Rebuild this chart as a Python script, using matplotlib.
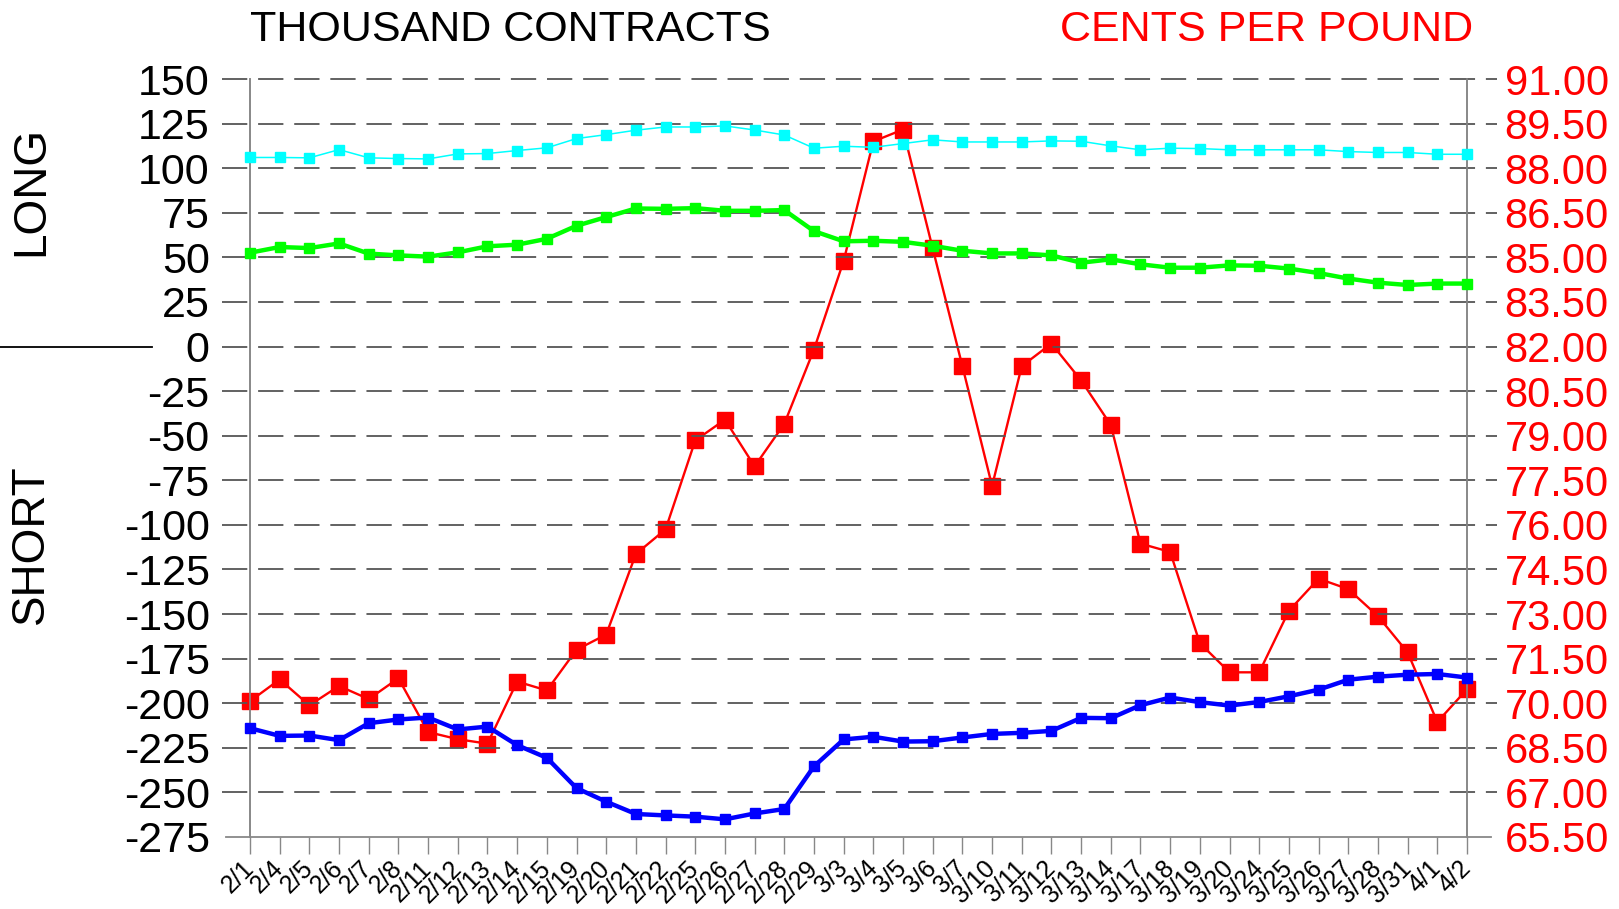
import matplotlib
matplotlib.use("Agg")
import matplotlib.pyplot as plt
import matplotlib.transforms as mtransforms
import numpy as np

dates = ['2/1', '2/4', '2/5', '2/6', '2/7', '2/8', '2/11', '2/12', '2/13', '2/14',
         '2/15', '2/19', '2/20', '2/21', '2/22', '2/25', '2/26', '2/27', '2/28', '2/29',
         '3/3', '3/4', '3/5', '3/6', '3/7', '3/10', '3/11', '3/12', '3/13', '3/14',
         '3/17', '3/18', '3/19', '3/20', '3/24', '3/25', '3/26', '3/27', '3/28', '3/31',
         '4/1', '4/2']

# thousand contracts
long_total = [106.0, 106.0, 105.8, 110.4, 105.8, 105.4, 105.2, 108.0, 108.2, 109.9,
              111.4, 116.6, 118.8, 121.3, 123.1, 123.1, 123.7, 121.4, 118.6, 111.2,
              112.3, 111.7, 113.8, 115.9, 114.7, 114.7, 114.7, 115.3, 115.1, 112.5,
              110.3, 111.2, 111.0, 110.3, 110.3, 110.3, 110.3, 109.3, 108.8, 108.8,
              107.8, 107.8]
net_long = [52.6, 55.8, 55.2, 57.8, 52.1, 51.1, 50.4, 52.8, 56.2, 57.1,
            60.4, 67.7, 72.6, 77.4, 77.2, 77.6, 76.1, 76.1, 76.5, 64.7,
            59.0, 59.3, 58.7, 56.5, 53.7, 52.2, 52.2, 51.1, 47.0, 48.9,
            46.1, 44.2, 44.2, 45.5, 45.3, 43.7, 41.2, 38.1, 35.8, 34.5,
            35.3, 35.3]
net_short = [-214.0, -218.3, -218.1, -220.7, -211.2, -209.1, -208.0, -214.7, -213.1, -223.5,
             -230.6, -247.6, -255.2, -262.1, -262.9, -263.6, -265.1, -261.8, -259.3, -235.4,
             -220.3, -218.8, -221.5, -221.3, -219.2, -217.2, -216.6, -215.5, -208.2, -208.4,
             -201.1, -196.8, -199.4, -201.3, -199.3, -196.1, -192.4, -186.8, -185.1, -184.0,
             -183.6, -185.6]
# cents per pound
price = [70.07, 70.80, 69.93, 70.58, 70.14, 70.84, 69.03, 68.79, 68.64, 70.73,
         70.43, 71.80, 72.31, 75.02, 75.85, 78.84, 79.54, 77.97, 79.40, 81.90,
         84.88, 88.90, 89.30, 85.30, 81.34, 77.31, 81.34, 82.10, 80.86, 79.36,
         75.37, 75.09, 72.02, 71.04, 71.04, 73.11, 74.19, 73.84, 72.93, 71.71,
         69.37, 70.47]

plt.rcParams['font.family'] = ['Liberation Sans', 'DejaVu Sans']

fig = plt.figure(figsize=(16.19, 9.09), dpi=100)
ax = fig.add_axes([250 / 1619, 1 - 837 / 909, 1217 / 1619, 758 / 909])
ax2 = ax.twinx()

x = np.arange(len(dates))

# price line sits underneath the position lines
ax2.plot(x, price, color='#ff0000', lw=1.7, marker='s', ms=11, zorder=3, clip_on=False)
ax.set_zorder(ax2.get_zorder() + 1)
ax.patch.set_visible(False)

ax.plot(x, long_total, color='#00ffff', lw=1.1, marker='s', ms=6.5, zorder=4, clip_on=False)
ax.plot(x, net_long, color='#00ff00', lw=3.2, marker='s', ms=7, zorder=5, clip_on=False)
ax.plot(x, net_short, color='#0000ff', lw=3.2, marker='s', ms=7, zorder=5, clip_on=False)

ax.set_xlim(0, len(dates) - 1)
ax.set_ylim(-275, 150)
ax2.set_ylim(65.5, 91.0)

yticks = np.arange(-275, 151, 25)
ax.set_yticks(yticks)
ax.set_yticklabels([str(v) for v in yticks], fontsize=31)
ax.tick_params(axis='y', length=0, pad=29)

pticks = np.arange(65.5, 91.01, 1.5)
ax2.set_yticks(pticks)
ax2.set_yticklabels(['%.2f' % v for v in pticks], fontsize=30, color='#ff0000')
ax2.tick_params(axis='y', length=0, pad=27)

ax.set_xticks(x)
ax.set_xticklabels(dates, rotation=45, ha='right', va='center', rotation_mode='anchor',
                   fontsize=18, family=['Liberation Sans Narrow', 'Liberation Sans'])
ax.tick_params(axis='x', length=12, width=1, color='#888888', pad=8)

for a in (ax, ax2):
    a.spines['top'].set_visible(False)
    a.spines['bottom'].set_visible(False)
    a.spines['left'].set_color('#888888')
    a.spines['right'].set_color('#888888')
    a.spines['left'].set_linewidth(1.2)
    a.spines['right'].set_linewidth(1.2)

# dashed grid running a little past both axes
ytrans = ax.get_yaxis_transform()
for v in yticks[1:]:
    ax.plot([-0.023, 1.025], [v, v], transform=ytrans, color='#555555', lw=1.3,
            dashes=(14, 6), clip_on=False, zorder=1)
ax.plot([-0.02, 1.02], [-275, -275], transform=ytrans, color='#888888', lw=1.3,
        clip_on=False, zorder=1)

# separator between LONG and SHORT
sep = mtransforms.blended_transform_factory(fig.transFigure, ax.transData)
ax.plot([0, 152 / 1619], [0, 0], transform=sep, color='black', lw=1.3, clip_on=False)

fig.text(250 / 1619, 1 - 30 / 909, 'THOUSAND CONTRACTS', fontsize=31, color='black',
         ha='left', va='center')
fig.text(1473 / 1619, 1 - 30 / 909, 'CENTS PER POUND', fontsize=31, color='#ff0000',
         ha='right', va='center')
fig.text(31 / 1619, 1 - 191 / 909, 'LONG', fontsize=33, rotation=90, ha='center', va='center')
fig.text(31 / 1619, 1 - 544 / 909, 'SHORT', fontsize=33, rotation=90, ha='center', va='center')

fig.savefig('out.png', dpi=100, facecolor='white')
